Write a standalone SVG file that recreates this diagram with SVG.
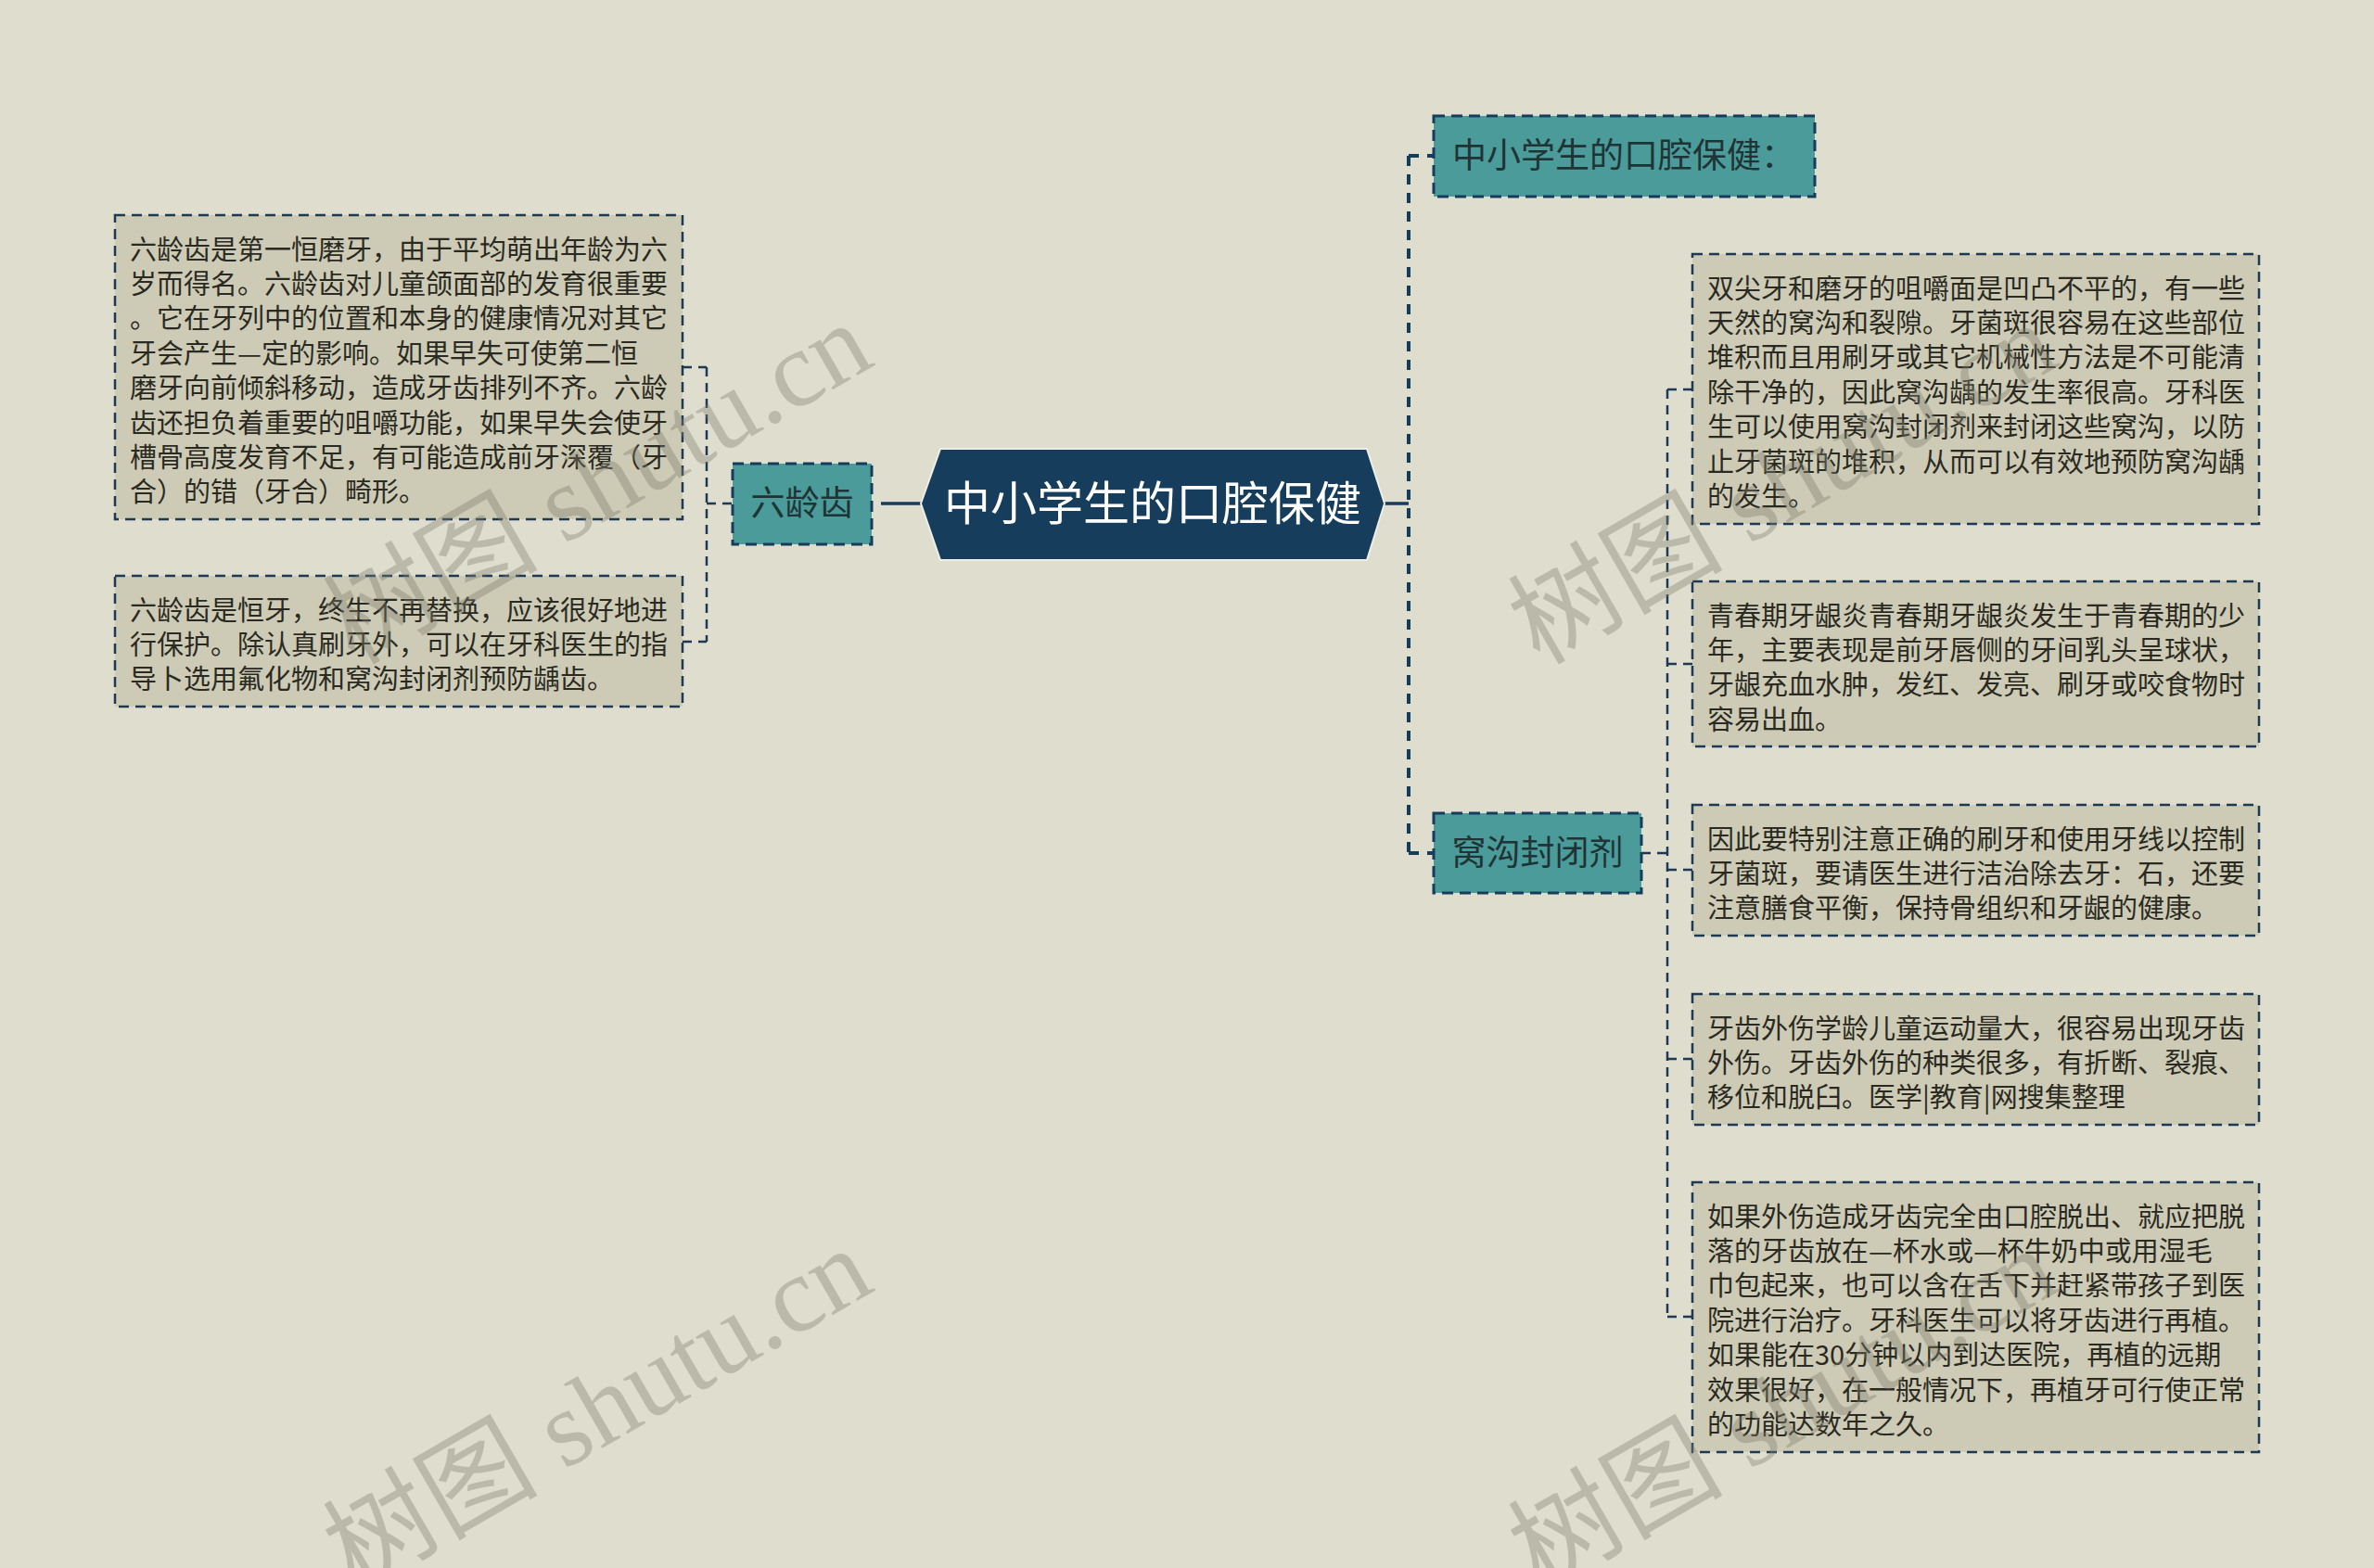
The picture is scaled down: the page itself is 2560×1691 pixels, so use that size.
<svg xmlns="http://www.w3.org/2000/svg" width="2560" height="1691" viewBox="0 0 2560 1691">
<style>
.box{fill:#cdcbb5;stroke:#1d3a55;stroke-width:2.5;stroke-dasharray:11 7}
.node{fill:#4b9b9b;stroke:#173d5c;stroke-width:3;stroke-dasharray:12 7}
.t{font-family:"Noto Sans CJK SC","Noto Sans",sans-serif;font-size:29px;fill:#2a2a22}
.nt{font-family:"Noto Sans CJK SC","Noto Sans",sans-serif;font-size:37px;fill:#1f3434}
.ct{font-family:"Noto Sans CJK SC","Noto Sans",sans-serif;font-size:50px;fill:#ffffff}
.thin{fill:none;stroke:#1d3a55;stroke-width:2.5;stroke-dasharray:10 7}
.thick{fill:none;stroke:#173d5c;stroke-width:4;stroke-dasharray:11 9}
.solid{fill:none;stroke:#173d5c;stroke-width:3.5}
.wm{font-family:"Liberation Serif","Noto Sans CJK SC",serif;font-size:116px;fill:#7f7f70;opacity:0.38}
</style>
<rect x="0" y="0" width="2560" height="1691" fill="#dfddce"/>

<g id="connectors">
<path class="solid" d="M993 543 H950"/>
<path class="thin" d="M762 396 V692"/>
<path class="thin" d="M736 396 H762 M736 692 H762 M762 543 H790"/>
<path class="solid" d="M1493 543 H1519"/>
<path class="thick" d="M1519 168 V920"/>
<path class="thick" d="M1519 168 H1546 M1519 920 H1546"/>
<path class="thin" d="M1798 420 V1420"/>
<path class="thin" d="M1770 920 H1798 M1798 420 H1825 M1798 716 H1825 M1798 938 H1825 M1798 1142 H1825 M1798 1420 H1825"/>
</g>

<g id="root">
<polygon points="993,543 1014,484 1474,484 1493,543 1474,604 1014,604" fill="#173d5c" stroke="#eeeee6" stroke-width="2"/>
<text class="ct" x="1243" y="561" text-anchor="middle">中小学生的口腔保健</text>
</g>

<g id="n-liulingchi">
<rect class="node" x="790" y="500" width="150" height="87"/>
<text class="nt" x="865" y="556" text-anchor="middle">六龄齿</text>
</g>

<g id="n-koqiang">
<rect class="node" x="1546" y="125" width="411" height="87"/>
<text class="nt" x="1566" y="181">中小学生的口腔保健：</text>
</g>

<g id="n-wogou">
<rect class="node" x="1546" y="877" width="224" height="86"/>
<text class="nt" x="1658" y="933" text-anchor="middle">窝沟封闭剂</text>
</g>

<g id="l1">
<rect class="box" x="124" y="232" width="612" height="328"/>
<text class="t" x="140" y="279.5"><tspan x="140">六龄齿是第一恒磨牙，由于平均萌出年龄为六</tspan><tspan x="140" dy="37.4">岁而得名。六龄齿对儿童颌面部的发育很重要</tspan><tspan x="140" dy="37.4">。它在牙列中的位置和本身的健康情况对其它</tspan><tspan x="140" dy="37.4">牙会产生—定的影响。如果早失可使第二恒</tspan><tspan x="140" dy="37.4">磨牙向前倾斜移动，造成牙齿排列不齐。六龄</tspan><tspan x="140" dy="37.4">齿还担负着重要的咀嚼功能，如果早失会使牙</tspan><tspan x="140" dy="37.4">槽骨高度发育不足，有可能造成前牙深覆（牙</tspan><tspan x="140" dy="37.4">合）的错（牙合）畸形。</tspan></text>
</g>

<g id="l2">
<rect class="box" x="124" y="621" width="612" height="141"/>
<text class="t" x="140" y="668.5"><tspan x="140">六龄齿是恒牙，终生不再替换，应该很好地进</tspan><tspan x="140" dy="37.4">行保护。除认真刷牙外，可以在牙科医生的指</tspan><tspan x="140" dy="37.4">导卜选用氟化物和窝沟封闭剂预防龋齿。</tspan></text>
</g>

<g id="r1">
<rect class="box" x="1825" y="274" width="611" height="291"/>
<text class="t" x="1841" y="321.5"><tspan x="1841">双尖牙和磨牙的咀嚼面是凹凸不平的，有一些</tspan><tspan x="1841" dy="37.4">天然的窝沟和裂隙。牙菌斑很容易在这些部位</tspan><tspan x="1841" dy="37.4">堆积而且用刷牙或其它机械性方法是不可能清</tspan><tspan x="1841" dy="37.4">除干净的，因此窝沟龋的发生率很高。牙科医</tspan><tspan x="1841" dy="37.4">生可以使用窝沟封闭剂来封闭这些窝沟，以防</tspan><tspan x="1841" dy="37.4">止牙菌斑的堆积，从而可以有效地预防窝沟龋</tspan><tspan x="1841" dy="37.4">的发生。</tspan></text>
</g>

<g id="r2">
<rect class="box" x="1825" y="627" width="611" height="178"/>
<text class="t" x="1841" y="674.5"><tspan x="1841">青春期牙龈炎青春期牙龈炎发生于青春期的少</tspan><tspan x="1841" dy="37.4">年，主要表现是前牙唇侧的牙间乳头呈球状，</tspan><tspan x="1841" dy="37.4">牙龈充血水肿，发红、发亮、刷牙或咬食物时</tspan><tspan x="1841" dy="37.4">容易出血。</tspan></text>
</g>

<g id="r3">
<rect class="box" x="1825" y="868" width="611" height="141"/>
<text class="t" x="1841" y="915.5"><tspan x="1841">因此要特别注意正确的刷牙和使用牙线以控制</tspan><tspan x="1841" dy="37.4">牙菌斑，要请医生进行洁治除去牙：石，还要</tspan><tspan x="1841" dy="37.4">注意膳食平衡，保持骨组织和牙龈的健康。</tspan></text>
</g>

<g id="r4">
<rect class="box" x="1825" y="1072" width="611" height="141"/>
<text class="t" x="1841" y="1119.5"><tspan x="1841">牙齿外伤学龄儿童运动量大，很容易出现牙齿</tspan><tspan x="1841" dy="37.4">外伤。牙齿外伤的种类很多，有折断、裂痕、</tspan><tspan x="1841" dy="37.4">移位和脱臼。医学|教育|网搜集整理</tspan></text>
</g>

<g id="r5">
<rect class="box" x="1825" y="1275" width="611" height="291"/>
<text class="t" x="1841" y="1322.5"><tspan x="1841">如果外伤造成牙齿完全由口腔脱出、就应把脱</tspan><tspan x="1841" dy="37.4">落的牙齿放在—杯水或—杯牛奶中或用湿毛</tspan><tspan x="1841" dy="37.4">巾包起来，也可以含在舌下并赶紧带孩子到医</tspan><tspan x="1841" dy="37.4">院进行治疗。牙科医生可以将牙齿进行再植。</tspan><tspan x="1841" dy="37.4">如果能在30分钟以内到达医院，再植的远期</tspan><tspan x="1841" dy="37.4">效果很好，在一般情况下，再植牙可行使正常</tspan><tspan x="1841" dy="37.4">的功能达数年之久。</tspan></text>
</g>

<g id="watermarks">
<text class="wm" x="382" y="718" transform="rotate(-30 382 718)">树图 shutu.cn</text>
<text class="wm" x="382" y="1716" transform="rotate(-30 382 1716)">树图 shutu.cn</text>
<text class="wm" x="1660" y="718" transform="rotate(-30 1660 718)">树图 shutu.cn</text>
<text class="wm" x="1660" y="1716" transform="rotate(-30 1660 1716)">树图 shutu.cn</text>
</g>
</svg>
